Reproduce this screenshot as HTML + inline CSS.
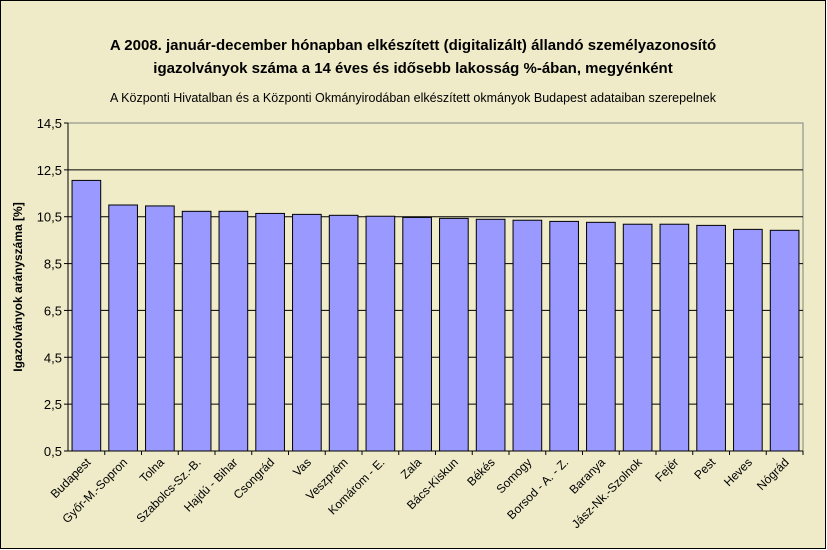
<!DOCTYPE html>
<html><head><meta charset="utf-8"><style>
body{margin:0;background:#fff}
svg{display:block;font-family:"Liberation Sans",sans-serif}
</style></head><body>
<svg id="chart" width="827" height="550">
<rect x="0.5" y="0.5" width="825" height="548" fill="#EFEBC9" stroke="#000"/>
<rect x="68" y="123" width="735" height="328" fill="#F0ECC8" stroke="#808080"/>
<text x="413" y="50" text-anchor="middle" font-size="15" font-weight="bold">A 2008. január-december hónapban elkészített (digitalizált) állandó személyazonosító</text>
<text x="413" y="73" text-anchor="middle" font-size="15" font-weight="bold">igazolványok száma a 14 éves és idősebb lakosság %-ában, megyénként</text>
<text x="413" y="102" text-anchor="middle" font-size="12.5">A  Központi Hivatalban és a Központi Okmányirodában elkészített  okmányok Budapest adataiban szerepelnek</text>
<text transform="translate(22,287) rotate(-90)" text-anchor="middle" font-size="12" font-weight="bold">Igazolványok arányszáma [%]</text>
<g id="grid"></g><g id="bars"></g><g id="axes"></g>
</svg>
<script>
const categories=["Budapest","Győr-M.-Sopron","Tolna","Szabolcs-Sz.-B.","Hajdú - Bihar","Csongrád","Vas","Veszprém","Komárom - E.","Zala","Bács-Kiskun","Békés","Somogy","Borsod - A. - Z.","Baranya","Jász-Nk.-Szolnok","Fejér","Pest","Heves","Nógrád"];
const values=[12.05,11.0,10.96,10.73,10.73,10.64,10.6,10.56,10.52,10.47,10.43,10.39,10.35,10.3,10.26,10.18,10.18,10.13,9.96,9.92];
const yTicks=[0.5,2.5,4.5,6.5,8.5,10.5,12.5,14.5];
const NS="http://www.w3.org/2000/svg";
const X0=68,X1=803,Y0=451,Y1=123,YMIN=0.5,YMAX=14.5;
const y=v=>Y0-(v-YMIN)/(YMAX-YMIN)*(Y0-Y1);
const cw=(X1-X0)/categories.length;
const x=i=>X0+i*cw;
function mk(t,a,p){const e=document.createElementNS(NS,t);for(const k in a)e.setAttribute(k,a[k]);p.appendChild(e);return e;}
const grid=document.getElementById('grid'),bars=document.getElementById('bars'),axes=document.getElementById('axes');
yTicks.forEach(v=>{
  if(v>YMIN&&v<YMAX){const l=mk('line',{x1:X0,x2:X1,y1:y(v),y2:y(v),stroke:'#000'},grid);
  
  }
  const tk=mk('line',{x1:X0-4,x2:X0,y1:y(v),y2:y(v),stroke:'#000'},axes);
  
  
  const t=mk('text',{x:X0-6,y:y(v)+5,'text-anchor':'end','font-size':13},axes);
  t.textContent=String(v).replace('.',',');
  
  
});
values.forEach((v,i)=>{
  const bw=cw*0.78;
  const r=mk('rect',{x:x(i)+(cw-bw)/2,y:y(v),width:bw,height:Y0-y(v),fill:'#9999FF',stroke:'#000'},bars);
  
  
});
mk('line',{x1:X0,x2:X0,y1:Y1,y2:Y0,stroke:'#000'},axes);
mk('line',{x1:X0,x2:X1,y1:Y0,y2:Y0,stroke:'#000'},axes);
categories.forEach((c,i)=>{
  const tk=mk('line',{x1:x(i+1),x2:x(i+1),y1:Y0,y2:Y0+4,stroke:'#000'},axes);
  
  
  const cx=x(i)+cw/2+5;
  const t=mk('text',{x:cx,y:Y0+12,'text-anchor':'end','font-size':12,transform:`rotate(-45 ${cx} ${Y0+12})`},axes);
  t.textContent=c;
  
  
});
</script>
</body></html>
